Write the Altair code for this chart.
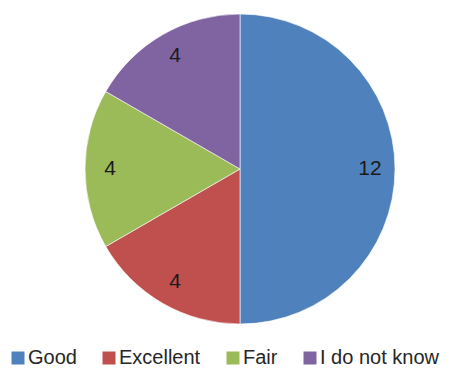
import altair as alt
import pandas as pd

categories = ["Good", "Excellent", "Fair", "I do not know"]
values = [12, 4, 4, 4]
colors = ["#4F81BD", "#C0504D", "#9BBB59", "#8064A2"]

df = pd.DataFrame({"cat": categories, "val": values, "order": list(range(len(categories)))})

base = alt.Chart(df).encode(
    theta=alt.Theta("val:Q", stack=True),
    order=alt.Order("order:Q"),
    x=alt.value(232),
    y=alt.value(161),
)

pie = base.mark_arc(outerRadius=155, stroke="#ffffff", strokeWidth=0.6).encode(
    color=alt.Color(
        "cat:N",
        scale=alt.Scale(domain=categories, range=colors),
        sort=categories,
        legend=alt.Legend(
            title=None,
            orient="none",
            direction="horizontal",
            legendX=0,
            legendY=340,
            columns=4,
            columnPadding=22,
            symbolType="square",
            symbolSize=169,
            symbolStrokeWidth=0,
            labelFont="Liberation Sans",
            labelFontSize=20,
            labelColor="#262626",
            labelOffset=0,
            labelLimit=300,
            padding=0,
        ),
    )
)

labels = base.mark_text(radius=130, font="Liberation Sans", fontSize=21, color="#1a1a1a").encode(
    text=alt.Text("val:Q")
)

chart = alt.layer(pie, labels).properties(
    width=435, height=359, padding=0, autosize=alt.AutoSizeParams(type="none")
).configure_view(stroke=None)

chart.save("out.html", embed_options={"renderer": "svg", "actions": False})
